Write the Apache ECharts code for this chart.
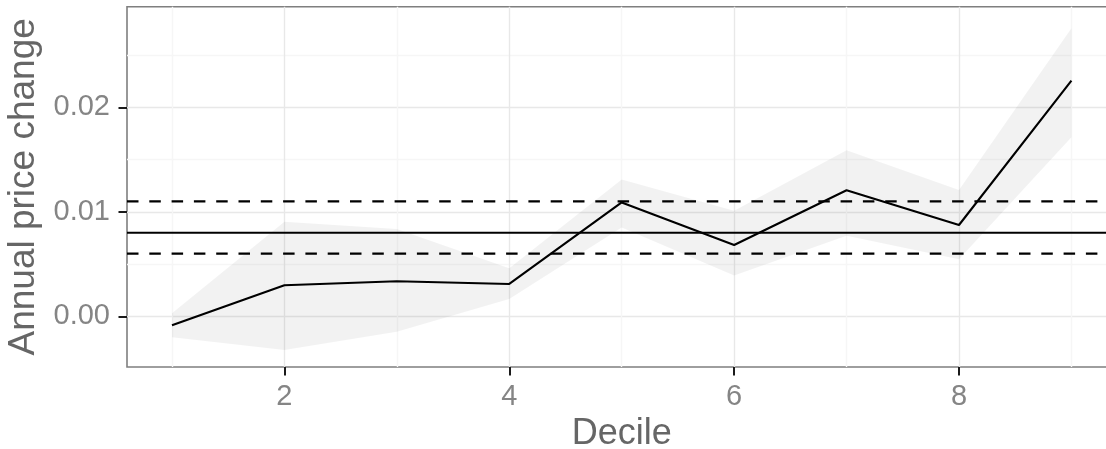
<!DOCTYPE html>
<html>
<head>
<meta charset="utf-8">
<script src="https://cdn.jsdelivr.net/npm/echarts@6/dist/echarts.min.js"></script>
<style>
html,body{margin:0;padding:0;background:#fff;}
#chart{width:1106px;height:449px;}
</style>
</head>
<body>
<div id="chart"></div>
<script>
const deciles = [1, 2, 3, 4, 5, 6, 7, 8, 9];
const priceChange = [-0.00086, 0.00297, 0.00336, 0.00310, 0.01090, 0.00682, 0.01206, 0.00874, 0.02255];
const ribbonLower = [-0.0020, -0.00322, -0.00147, 0.00166, 0.00850, 0.00390, 0.00770, 0.00545, 0.01713];
const ribbonUpper = [0.0003, 0.00905, 0.00835, 0.00460, 0.01310, 0.01010, 0.01590, 0.01210, 0.02756];
const refMean = 0.0080;
const refLow = 0.0060;
const refHigh = 0.0110;
const xTicks = [2, 4, 6, 8];
const yTicks = [0, 0.01, 0.02];
const xRange = [0.6, 9.4];
const yRange = [-0.00485, 0.02963];
const xName = 'Decile';
const yName = 'Annual price change';

const bandData = deciles.map((d, i) => [d, ribbonLower[i], ribbonUpper[i]]);
const lineData = deciles.map((d, i) => [d, priceChange[i]]);
const hline = v => [[xRange[0], v], [xRange[1], v]];

const labelColor = '#858585';
const titleColor = '#666666';
const font = 'Liberation Sans';

const chart = echarts.init(document.getElementById('chart'), null, {renderer: 'canvas'});
chart.setOption({
  animation: false,
  backgroundColor: '#ffffff',
  grid: {
    left: 127, top: 6.7, width: 989.4, bottom: 82,
    containLabel: false, outerBoundsMode: 'none',
    show: true, borderColor: '#7f7f7f', borderWidth: 1.6, backgroundColor: 'transparent'
  },
  xAxis: {
    type: 'value', min: xRange[0], max: xRange[1], splitNumber: 4,
    name: xName, nameLocation: 'middle', nameGap: 46,
    nameTextStyle: {color: titleColor, fontSize: 36, fontFamily: font},
    axisLine: {show: false, onZero: false},
    axisTick: {show: true, customValues: xTicks, length: 8.5, lineStyle: {color: '#1a1a1a', width: 2}},
    axisLabel: {customValues: xTicks, color: labelColor, fontSize: 29, fontFamily: font, margin: 15,
      formatter: v => String(Math.round(v))},
    splitLine: {show: true, lineStyle: {color: '#e8e8e8', width: 1.4}},
    minorTick: {show: false, splitNumber: 2},
    minorSplitLine: {show: true, lineStyle: {color: '#f6f6f6', width: 1.4}}
  },
  yAxis: {
    type: 'value', min: yRange[0], max: yRange[1], splitNumber: 3,
    name: yName, nameLocation: 'middle', nameGap: 84,
    nameTextStyle: {color: titleColor, fontSize: 37, fontFamily: font},
    axisLine: {show: false, onZero: false},
    axisTick: {show: true, customValues: yTicks, length: 8.5, lineStyle: {color: '#1a1a1a', width: 2}},
    axisLabel: {customValues: yTicks, color: labelColor, fontSize: 29, fontFamily: font, margin: 17,
      formatter: v => v.toFixed(2)},
    splitLine: {show: true, lineStyle: {color: '#e8e8e8', width: 1.4}},
    minorTick: {show: false, splitNumber: 2},
    minorSplitLine: {show: true, lineStyle: {color: '#f6f6f6', width: 1.4}}
  },
  series: [
    {
      type: 'custom', name: 'band', data: bandData, silent: true, z: 1,
      renderItem: function (params, api) {
        if (params.dataIndex !== 0) return null;
        const top = bandData.map(d => api.coord([d[0], d[2]]));
        const bottom = bandData.slice().reverse().map(d => api.coord([d[0], d[1]]));
        return {
          type: 'polygon',
          shape: {points: top.concat(bottom)},
          style: {fill: 'rgba(0,0,0,0.05)', stroke: null}
        };
      }
    },
    {
      type: 'line', name: 'mean', data: hline(refMean), symbol: 'none', silent: true, z: 4,
      lineStyle: {color: '#000000', width: 2.1, type: 'solid'}
    },
    {
      type: 'line', name: 'low', data: hline(refLow), symbol: 'none', silent: true, z: 4,
      lineStyle: {color: '#000000', width: 2.1, type: [11.5, 10.8]}
    },
    {
      type: 'line', name: 'high', data: hline(refHigh), symbol: 'none', silent: true, z: 4,
      lineStyle: {color: '#000000', width: 2.1, type: [11.5, 10.8]}
    },
    {
      type: 'line', name: 'change', data: lineData, symbol: 'none', z: 5,
      lineStyle: {color: '#000000', width: 2.1}
    }
  ]
});
</script>
</body>
</html>
